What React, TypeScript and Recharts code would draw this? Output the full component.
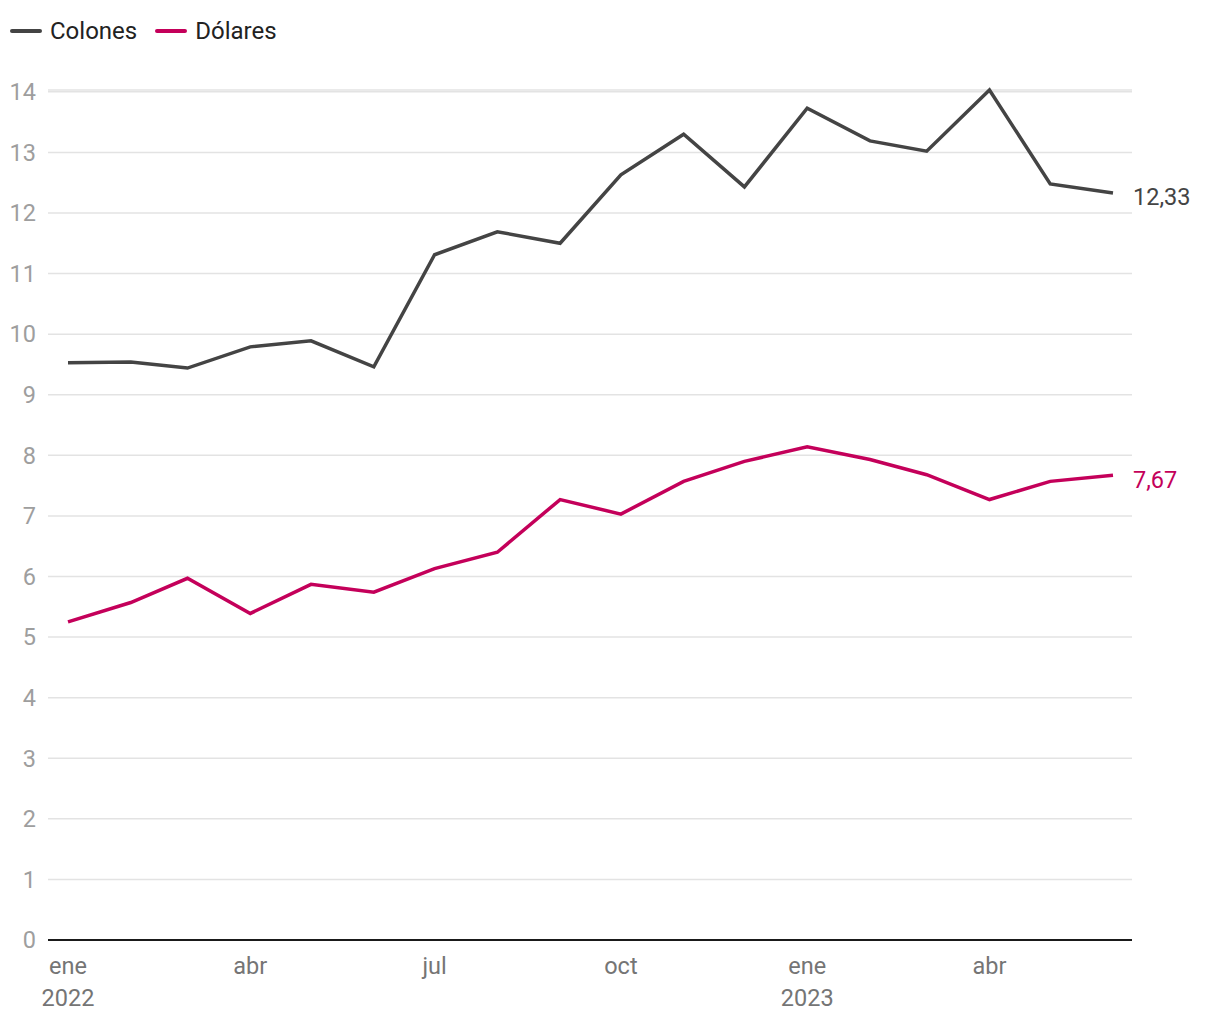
import React from "react";
import {
  LineChart,
  Line,
  XAxis,
  YAxis,
  CartesianGrid,
  LabelList,
} from "recharts";

const months = [
  "2022-01", "2022-02", "2022-03", "2022-04", "2022-05", "2022-06",
  "2022-07", "2022-08", "2022-09", "2022-10", "2022-11", "2022-12",
  "2023-01", "2023-02", "2023-03", "2023-04", "2023-05", "2023-06",
];

const colones = [
  9.53, 9.54, 9.44, 9.79, 9.89, 9.46, 11.31, 11.69, 11.5, 12.63, 13.3, 12.43,
  13.73, 13.19, 13.02, 14.03, 12.48, 12.33,
];

const dolares = [
  5.25, 5.57, 5.97, 5.39, 5.87, 5.74, 6.13, 6.4, 7.27, 7.03, 7.57, 7.9,
  8.14, 7.93, 7.68, 7.27, 7.57, 7.67,
];

const tickMonths = ["2022-01", "2022-04", "2022-07", "2022-10", "2023-01", "2023-04"];
const yTicks = [0, 1, 2, 3, 4, 5, 6, 7, 8, 9, 10, 11, 12, 13, 14];
const monthNames = ["ene", "feb", "mar", "abr", "may", "jun", "jul", "ago", "sep", "oct", "nov", "dic"];

const GRAY = "#444444";
const MAGENTA = "#c4005a";
const FONT = "Roboto, sans-serif";
const FS = 23.5;

const toTs = (m: string) => {
  const [y, mo] = m.split("-").map(Number);
  return Date.UTC(y, mo - 1, 1);
};

const data = months.map((m, i) => ({
  t: toTs(m),
  colones: colones[i],
  dolares: dolares[i],
}));

const xTicks = tickMonths.map(toTs);

const XTick = (props: any) => {
  const { x, y, payload } = props;
  const d = new Date(payload.value);
  const mo = d.getUTCMonth();
  return (
    <g>
      <text x={x} y={y + 32} textAnchor="middle" fill="#757575" fontSize={FS} fontFamily={FONT}>
        {monthNames[mo]}
      </text>
      {mo === 0 && (
        <text x={x} y={y + 64} textAnchor="middle" fill="#757575" fontSize={FS} fontFamily={FONT}>
          {d.getUTCFullYear()}
        </text>
      )}
    </g>
  );
};

const endLabel = (color: string) => (props: any) => {
  const { x, y, index, value } = props;
  if (index !== months.length - 1) return null;
  return (
    <text x={x + 20} y={y + 12.5} fill={color} fontSize={FS} fontFamily={FONT}>
      {String(value).replace(".", ",")}
    </text>
  );
};

const legendItems = [
  { name: "Colones", color: GRAY },
  { name: "Dólares", color: MAGENTA },
];

export default function App() {
  return (
    <div style={{ position: "relative", width: 1204, height: 1010, fontFamily: FONT }}>
      <div
        style={{
          position: "absolute",
          left: 2,
          top: 9,
          display: "flex",
          alignItems: "center",
          fontSize: 24,
          color: "#222",
          zIndex: 2,
        }}
      >
        {legendItems.map((it) => (
          <div key={it.name} style={{ display: "flex", alignItems: "center", marginRight: 18 }}>
            <span style={{ width: 32, height: 4, background: it.color, borderRadius: 2, marginRight: 8 }} />
            <span>{it.name}</span>
          </div>
        ))}
      </div>
      <LineChart
        width={1204}
        height={1010}
        data={data}
        margin={{ top: 82, right: 80, bottom: 10, left: 0 }}
      >
        <CartesianGrid horizontal vertical={false} stroke="#e3e3e3" strokeWidth={1.5} />
        <XAxis
          dataKey="t"
          type="number"
          domain={["dataMin", "dataMax"]}
          ticks={xTicks}
          padding={{ left: 20, right: 19 }}
          tick={<XTick />}
          tickLine={false}
          tickSize={0}
          height={68}
          axisLine={{ stroke: "#1a1a1a", strokeWidth: 2 }}
          interval={0}
        />
        <YAxis
          type="number"
          domain={[0, 14]}
          ticks={yTicks}
          width={40}
          axisLine={false}
          tickLine={false}
          tickSize={0}
          tickMargin={12}
          tick={{ fill: "#9e9e9e", fontSize: FS, fontFamily: FONT }}
          interval={0}
        />
        <Line
          dataKey="colones"
          stroke={GRAY}
          strokeWidth={3.5}
          dot={false}
          isAnimationActive={false}
          type="linear"
        >
          <LabelList dataKey="colones" content={endLabel(GRAY)} />
        </Line>
        <Line
          dataKey="dolares"
          stroke={MAGENTA}
          strokeWidth={3.5}
          dot={false}
          isAnimationActive={false}
          type="linear"
        >
          <LabelList dataKey="dolares" content={endLabel(MAGENTA)} />
        </Line>
      </LineChart>
    </div>
  );
}
